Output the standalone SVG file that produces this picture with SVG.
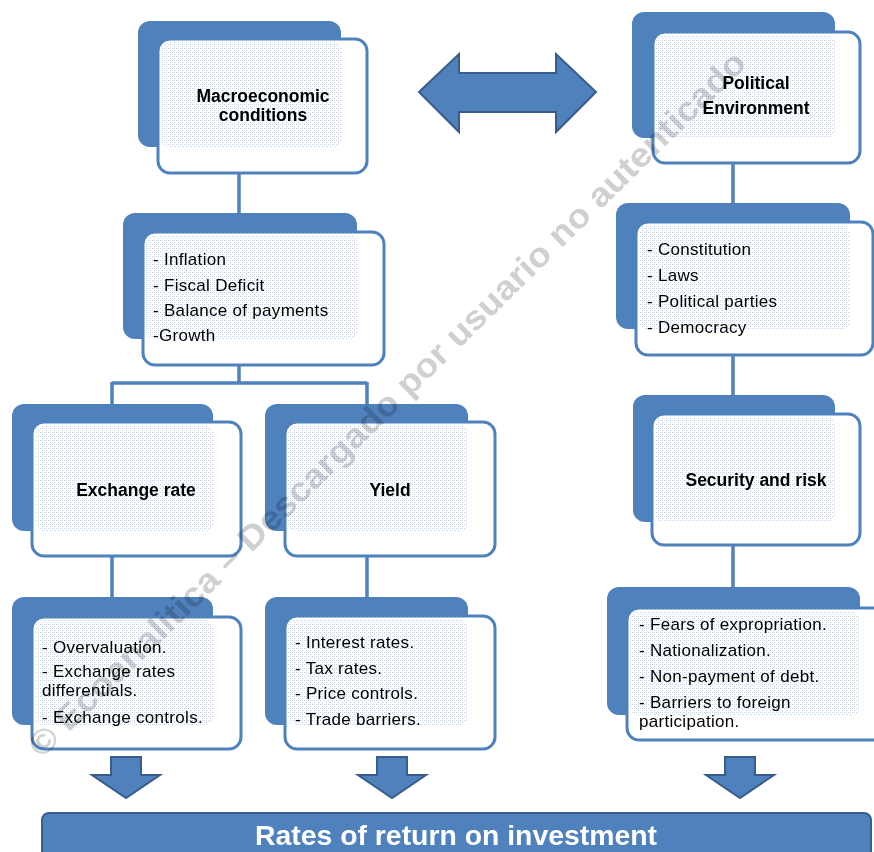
<svg xmlns="http://www.w3.org/2000/svg" width="874" height="852" viewBox="0 0 874 852">
<defs>
<pattern id="dots" width="4" height="4" patternUnits="userSpaceOnUse">
<rect width="4" height="4" fill="#ffffff"/>
<rect x="0" y="0" width="1" height="1" fill="#C3CFE2"/>
<rect x="2" y="2" width="1" height="1" fill="#C3CFE2"/>
<rect x="2" y="0" width="1" height="1" fill="#D9E1EE"/>
</pattern>
<style>
.back{fill:#4F81BD}
.front{fill:#ffffff;stroke:#4F81BD;stroke-width:3}
.tex{fill:url(#dots)}
.title{font-family:"Liberation Sans",Arial,sans-serif;font-weight:bold;font-size:17.5px;text-anchor:middle;fill:#000}
.bul{font-family:"Liberation Sans",Arial,sans-serif;font-size:17px;letter-spacing:0.3px;fill:#000}
.conn{stroke:#4F81BD;stroke-width:3.5;fill:none}
.arr{fill:#4F81BD;stroke:#385D8A;stroke-width:2;stroke-linejoin:miter}
.wm{font-family:"Liberation Sans",Arial,sans-serif;font-weight:bold;font-size:34px;fill:#D0D0D0;text-anchor:middle;mix-blend-mode:multiply}
</style>
</defs>
<rect width="874" height="852" fill="#ffffff"/>

<g id="connectors">
<path class="conn" d="M239,172 V214"/>
<path class="conn" d="M239,364 V383 M112,383 H367 M112,382 V405 M367,382 V405"/>
<path class="conn" d="M112,555 V598"/>
<path class="conn" d="M367,555 V598"/>
<path class="conn" d="M733,162 V204"/>
<path class="conn" d="M733,354 V396"/>
<path class="conn" d="M733,544 V588"/>
<polygon id="double-arrow" class="arr" points="419,92 459,54 459,73 556,73 556,54 596,92 556,132 556,112 459,112 459,132"/>
<polygon id="down-arrow-1" class="arr" points="111,757 141,757 141,775 160,775 126,798 92,775 111,775"/>
<polygon id="down-arrow-2" class="arr" points="377,757 407,757 407,775 426,775 392,798 358,775 377,775"/>
<polygon id="down-arrow-3" class="arr" points="725,757 755,757 755,775 774,775 740,798 706,775 725,775"/>
</g>

<g id="macro">
<rect class="back" x="138" y="21" width="203" height="126" rx="12"/>
<rect class="front" x="158" y="39" width="209" height="134" rx="12"/>
<rect class="tex" x="161" y="42" width="180" height="105" rx="8"/>
<text class="title" x="263" y="102">Macroeconomic</text>
<text class="title" x="263" y="121">conditions</text>
</g>

<g id="macro-list">
<rect class="back" x="123" y="213" width="234" height="126" rx="12"/>
<rect class="front" x="143" y="232" width="241" height="133" rx="12"/>
<rect class="tex" x="146" y="235" width="211" height="104" rx="8"/>
<text class="bul" x="153" y="265">- Inflation</text>
<text class="bul" x="153" y="291">- Fiscal Deficit</text>
<text class="bul" x="153" y="316">- Balance of payments</text>
<text class="bul" x="153" y="341">-Growth</text>
</g>

<g id="exchange">
<rect class="back" x="12" y="404" width="201" height="127" rx="12"/>
<rect class="front" x="32" y="422" width="209" height="134" rx="12"/>
<rect class="tex" x="35" y="425" width="178" height="106" rx="8"/>
<text class="title" x="136" y="496">Exchange rate</text>
</g>

<g id="yield">
<rect class="back" x="265" y="404" width="203" height="127" rx="12"/>
<rect class="front" x="285" y="422" width="210" height="134" rx="12"/>
<rect class="tex" x="288" y="425" width="180" height="106" rx="8"/>
<text class="title" x="390" y="496">Yield</text>
</g>

<g id="exchange-list">
<rect class="back" x="12" y="597" width="201" height="128" rx="12"/>
<rect class="front" x="32" y="617" width="209" height="132" rx="12"/>
<rect class="tex" x="35" y="620" width="178" height="105" rx="8"/>
<text class="bul" x="42" y="653">- Overvaluation.</text>
<text class="bul" x="42" y="677">- Exchange rates</text>
<text class="bul" x="42" y="696">differentials.</text>
<text class="bul" x="42" y="723">- Exchange controls.</text>
</g>

<g id="yield-list">
<rect class="back" x="265" y="597" width="203" height="128" rx="12"/>
<rect class="front" x="285" y="616" width="210" height="133" rx="12"/>
<rect class="tex" x="288" y="619" width="180" height="106" rx="8"/>
<text class="bul" x="295" y="648">- Interest rates.</text>
<text class="bul" x="295" y="674">- Tax rates.</text>
<text class="bul" x="295" y="699">- Price controls.</text>
<text class="bul" x="295" y="725">- Trade barriers.</text>
</g>

<g id="political">
<rect class="back" x="632" y="12" width="203" height="126" rx="12"/>
<rect class="front" x="653" y="32" width="207" height="131" rx="12"/>
<rect class="tex" x="656" y="35" width="179" height="103" rx="8"/>
<text class="title" x="756" y="89">Political</text>
<text class="title" x="756" y="114">Environment</text>
</g>

<g id="political-list">
<rect class="back" x="616" y="203" width="234" height="126" rx="12"/>
<rect class="front" x="636" y="222" width="237" height="133" rx="12"/>
<rect class="tex" x="639" y="225" width="211" height="104" rx="8"/>
<text class="bul" x="647" y="255">- Constitution</text>
<text class="bul" x="647" y="281">- Laws</text>
<text class="bul" x="647" y="307">- Political parties</text>
<text class="bul" x="647" y="333">- Democracy</text>
</g>

<g id="security">
<rect class="back" x="633" y="395" width="202" height="127" rx="12"/>
<rect class="front" x="652" y="414" width="208" height="131" rx="12"/>
<rect class="tex" x="655" y="417" width="180" height="105" rx="8"/>
<text class="title" x="756" y="486">Security and risk</text>
</g>

<g id="security-list">
<rect class="back" x="607" y="587" width="253" height="128" rx="12"/>
<rect class="front" x="627" y="608" width="262" height="132" rx="12"/>
<rect class="tex" x="630" y="611" width="230" height="104" rx="8"/>
<text class="bul" x="639" y="630">- Fears of expropriation.</text>
<text class="bul" x="639" y="656">- Nationalization.</text>
<text class="bul" x="639" y="682">- Non-payment of debt.</text>
<text class="bul" x="639" y="708">- Barriers to foreign</text>
<text class="bul" x="639" y="727">participation.</text>
</g>

<g id="returns">
<rect x="42" y="813" width="829" height="52" rx="7" fill="#4F81BD" stroke="#385D8A" stroke-width="2"/>
<text x="456" y="845" font-family="'Liberation Sans',Arial,sans-serif" font-weight="bold" font-size="28" fill="#ffffff" text-anchor="middle" textLength="402" lengthAdjust="spacingAndGlyphs">Rates of return on investment</text>
</g>

<text class="wm" x="395" y="412" transform="rotate(-44.5 395 412)" textLength="990" lengthAdjust="spacingAndGlyphs">© Ecoanalitica – Descargado por usuario no autenticado</text>
</svg>
